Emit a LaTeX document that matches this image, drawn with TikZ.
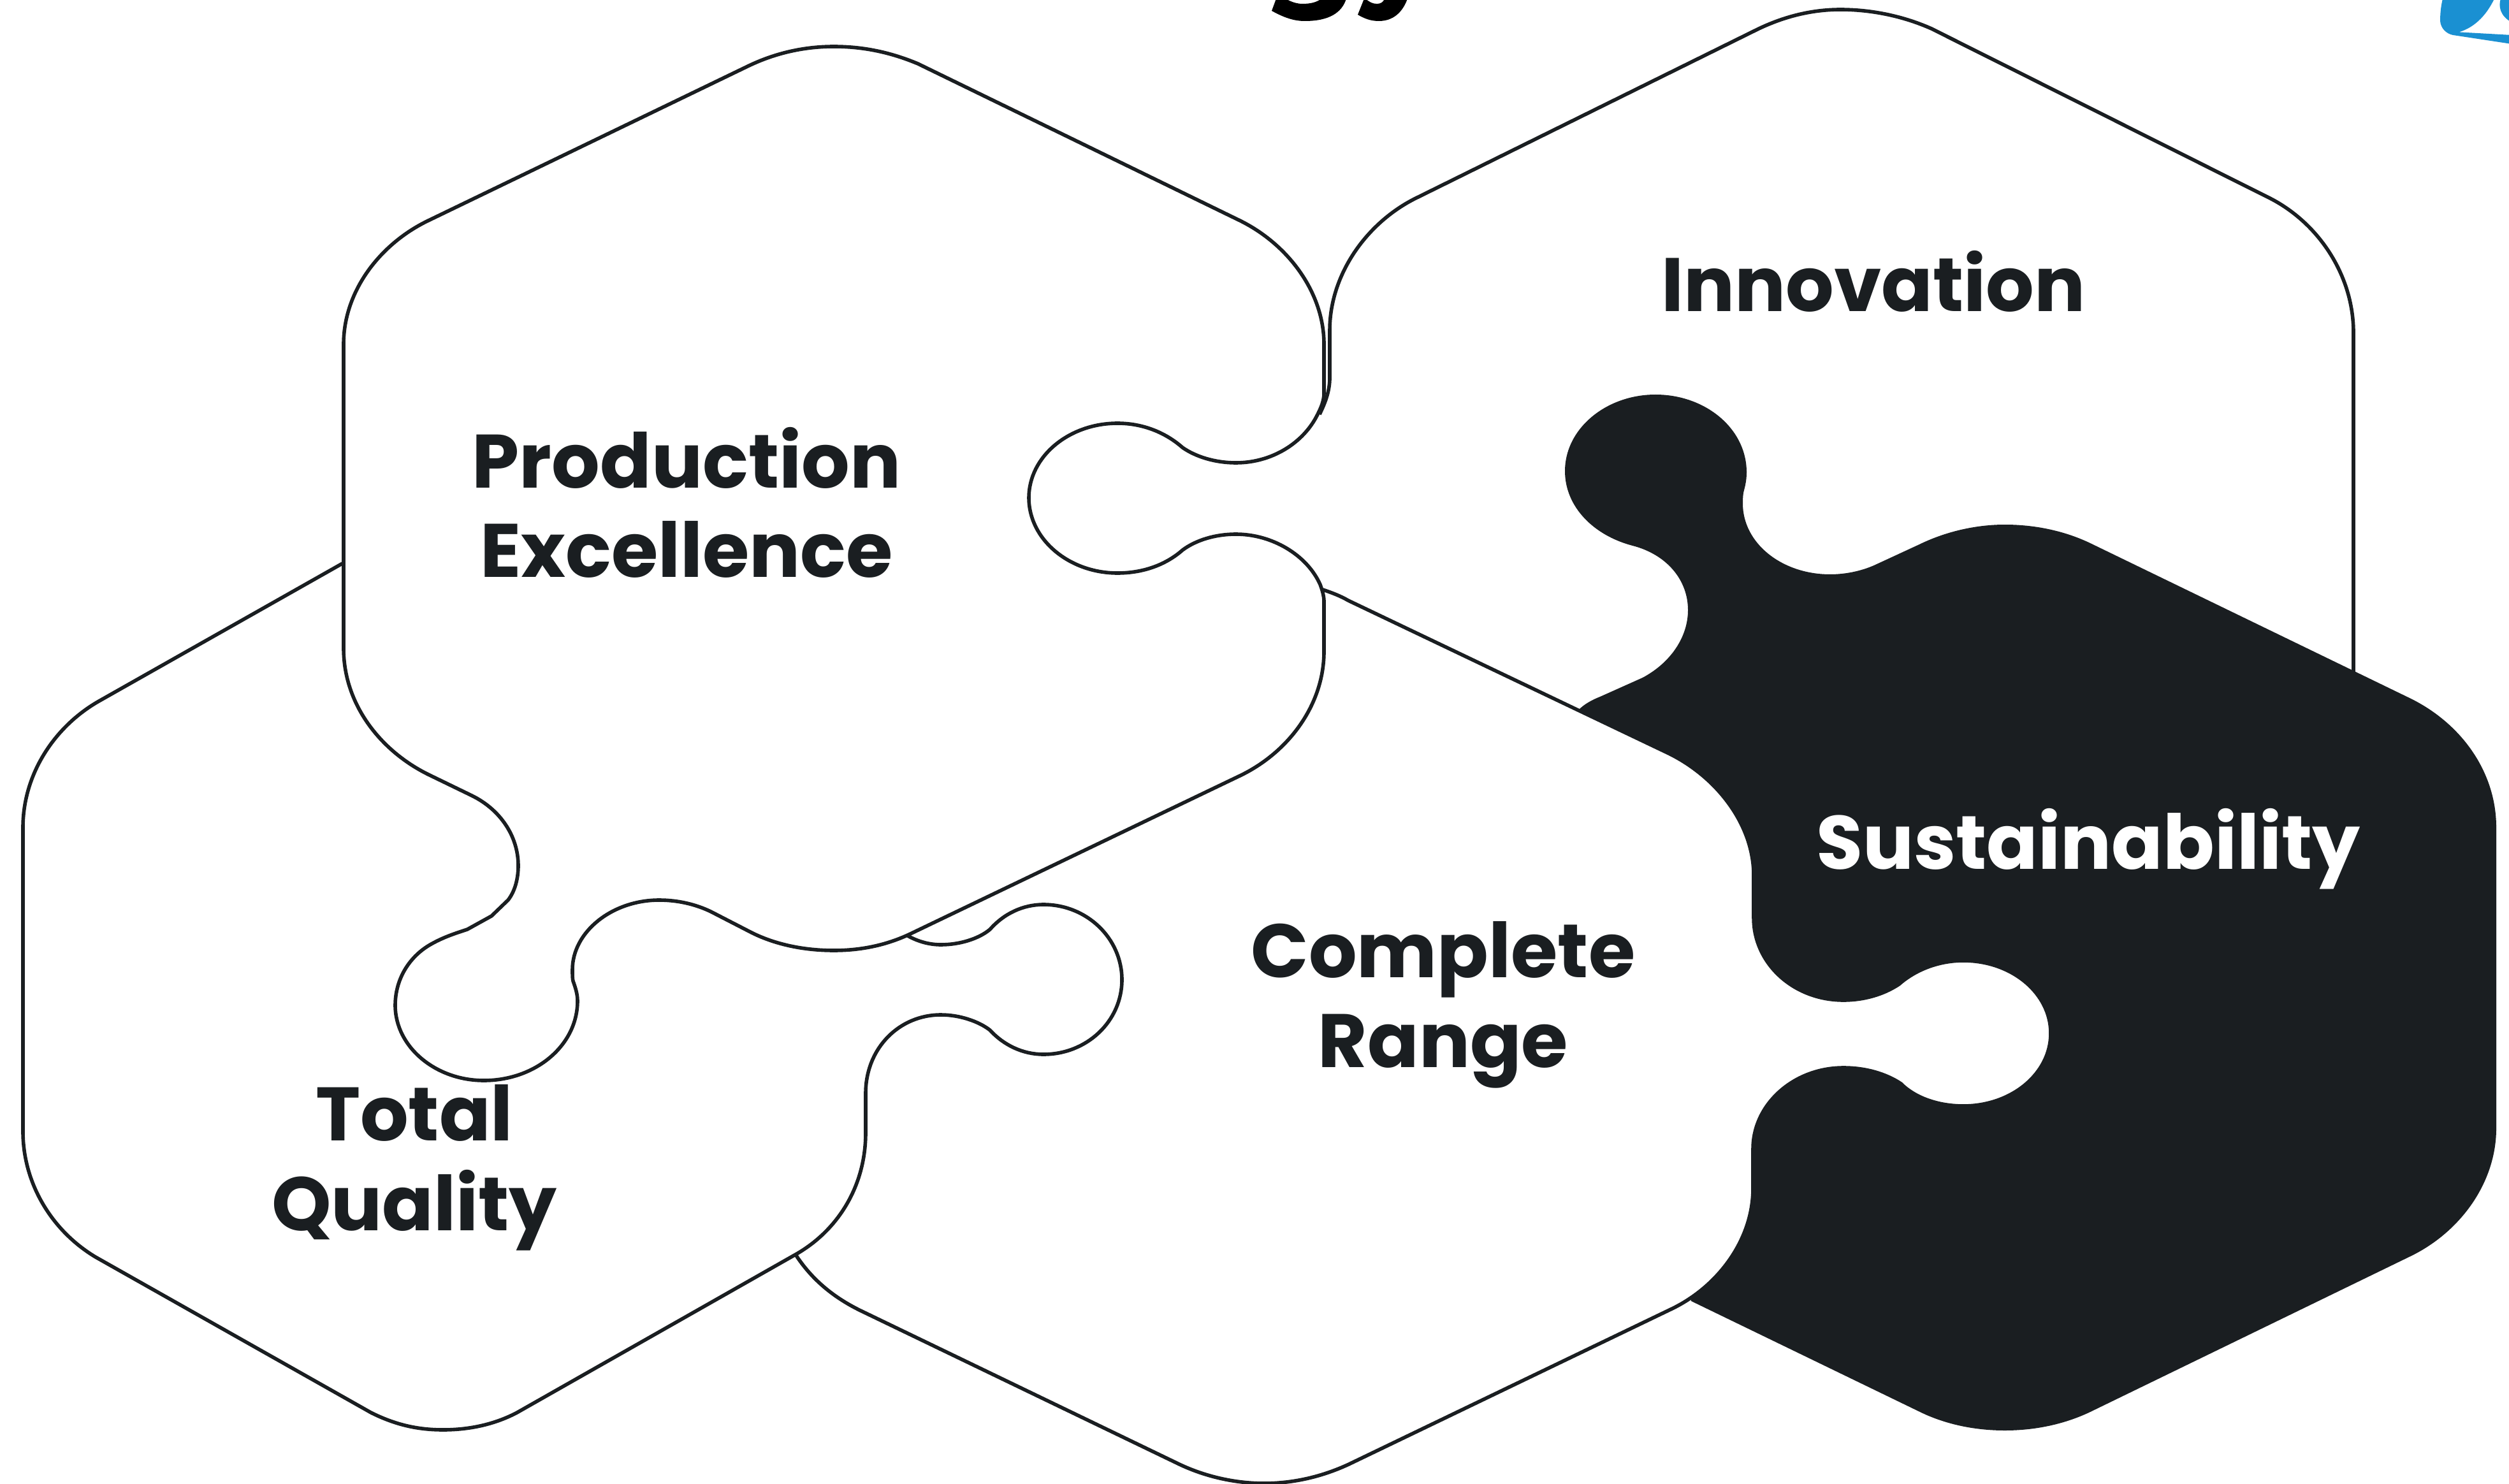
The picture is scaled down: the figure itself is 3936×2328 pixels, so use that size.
\documentclass[tikz,border=0pt]{standalone}
\usepackage{fontspec}
\setmainfont{Poppins}
\definecolor{ink}{HTML}{1A1E21}
\definecolor{logoblue}{HTML}{1A90D2}
\tikzset{
  piece/.style={fill=white,draw=ink,line width=0.056cm,line join=round},
  label/.style={font=\fontsize{33.8}{40}\selectfont\bfseries,text=ink,align=center,anchor=base,inner sep=0pt},
}
\begin{document}
\begin{tikzpicture}[x=0.01cm,y=-0.01cm]
\useasboundingbox (0,0) rectangle (3936,2328);
\fill[white] (0,0) rectangle (3936,2328);
% title descenders cut by the top edge
\fill[black] (2002,-2) -- (1995,17) .. controls (2015,28) and (2030,33) .. (2047,33) .. controls (2085,33) and (2105,20) .. (2112,-2) -- (2073,-2) .. controls (2065,4) and (2055,6) .. (2043,6) .. controls (2035,6) and (2025,3) .. (2017,-2) -- cycle;
\fill[black] (2140,-2) -- (2130,23) .. controls (2140,29) and (2150,33) .. (2163,33) .. controls (2185,33) and (2200,20) .. (2208,-2) -- (2172,-2) .. controls (2170,4) and (2165,6) .. (2160,6) .. controls (2153,6) and (2148,3) .. (2142,-2) -- cycle;
% logo corner
\fill[logoblue] (3832,-2) .. controls (3829,10) and (3828,22) .. (3828,33) .. controls (3829,45) and (3838,53) .. (3848,55) -- (3940,69) -- (3940,55) -- (3851,50) -- (3851,52) .. controls (3880,46) and (3900,25) .. (3913,-2) -- cycle;
\fill[logoblue] (3923,-2) .. controls (3919,10) and (3922,25) .. (3940,35) -- (3940,-2) -- cycle;
% Innovation
\draw[piece,fill=none] (2070,650) .. controls (2080,630) and (2086,612) .. (2086,593) -- (2086,518) .. controls (2086,430) and (2145,347) .. (2225,309) -- (2753,48) .. controls (2795,27) and (2840,15) .. (2887,15) .. controls (2935,15) and (2985,25) .. (3030,45) -- (3557,309) .. controls (3635,347) and (3692,430) .. (3692,522) -- (3692,1060);
% Sustainability
\fill[ink] (2477,1113) .. controls (2485,1105) and (2497,1098) .. (2510,1093) -- (2577,1063) .. controls (2620,1040) and (2648,1000) .. (2648,957) .. controls (2648,910) and (2615,870) .. (2561,856) .. controls (2500,840) and (2455,795) .. (2455,739) .. controls (2455,672) and (2520,619) .. (2597,619) .. controls (2675,619) and (2740,672) .. (2740,741) .. controls (2740,755) and (2737,765) .. (2735,773) .. controls (2734,780) and (2734,785) .. (2734,790) .. controls (2734,852) and (2795,901) .. (2871,901) .. controls (2897,901) and (2923,895) .. (2944,885) -- (3011,854) .. controls (3050,835) and (3097,823) .. (3145,823) .. controls (3193,823) and (3240,833) .. (3281,853) -- (3778,1094) .. controls (3860,1133) and (3916,1210) .. (3916,1298) -- (3916,1770) .. controls (3916,1855) and (3860,1932) .. (3783,1970) -- (3281,2214) .. controls (3240,2234) and (3193,2244) .. (3145,2244) .. controls (3097,2244) and (3050,2234) .. (3010,2214) -- (2653,2041) -- cycle;
% Complete Range
\path[piece] (2075,925) .. controls (2090,930) and (2103,935) .. (2115,942) -- (2618,1182) .. controls (2695,1220) and (2751,1295) .. (2751,1373) -- (2751,1440) .. controls (2751,1511) and (2813,1569) .. (2892,1569) .. controls (2924,1569) and (2955,1560) .. (2979,1544) .. controls (3004,1522) and (3040,1507) .. (3080,1507) .. controls (3156,1507) and (3217,1558) .. (3217,1621) .. controls (3217,1684) and (3156,1735) .. (3080,1735) .. controls (3040,1735) and (3004,1722) .. (2982,1700) .. controls (2958,1684) and (2926,1675) .. (2892,1675) .. controls (2813,1675) and (2750,1733) .. (2750,1802) -- (2750,1864) .. controls (2750,1945) and (2695,2018) .. (2623,2053) -- (2116,2297) .. controls (2075,2316) and (2030,2327) .. (1983,2327) .. controls (1937,2327) and (1890,2316) .. (1850,2297) -- (1350,2056) .. controls (1305,2034) and (1272,2005) .. (1248,1968);
% Total Quality
\path[piece] (537,884) -- (155,1100) .. controls (85,1140) and (36,1215) .. (36,1298) -- (36,1775) .. controls (36,1855) and (80,1930) .. (150,1972) -- (582,2216) .. controls (620,2235) and (655,2243) .. (695,2243) .. controls (735,2243) and (775,2235) .. (811,2216) -- (1248,1968) .. controls (1315,1930) and (1358,1860) .. (1358,1777) -- (1358,1715) .. controls (1358,1645) and (1410,1592) .. (1476,1592) .. controls (1505,1592) and (1535,1602) .. (1553,1616) .. controls (1575,1640) and (1605,1654) .. (1637,1654) .. controls (1705,1654) and (1760,1602) .. (1760,1537) .. controls (1760,1472) and (1705,1419) .. (1637,1419) .. controls (1605,1419) and (1575,1433) .. (1553,1458) .. controls (1535,1473) and (1505,1482) .. (1476,1482) .. controls (1458,1482) and (1440,1477) .. (1424,1468);
% Production Excellence
\path[piece] (539,540) .. controls (539,456) and (597,382) .. (672,346) -- (1175,103) .. controls (1217,83) and (1262,73) .. (1308,73) .. controls (1354,73) and (1397,82) .. (1440,100) -- (1945,346) .. controls (2022,384) and (2077,460) .. (2077,540) -- (2077,617) .. controls (2077,629) and (2072,640) .. (2067,650) .. controls (2045,695) and (1995,726) .. (1939,726) .. controls (1905,726) and (1875,716) .. (1855,702) .. controls (1830,680) and (1795,664) .. (1753,664) .. controls (1677,664) and (1614,716) .. (1614,781) .. controls (1614,846) and (1677,899) .. (1753,899) .. controls (1795,899) and (1830,885) .. (1855,863) .. controls (1875,848) and (1905,838) .. (1939,838) .. controls (1995,838) and (2050,870) .. (2071,917) .. controls (2074,925) and (2077,935) .. (2077,943) -- (2077,1022) .. controls (2077,1105) and (2022,1180) .. (1945,1217) -- (1428,1465) .. controls (1390,1483) and (1350,1491) .. (1308,1491) .. controls (1262,1491) and (1217,1482) .. (1179,1463) -- (1115,1430) .. controls (1090,1418) and (1062,1412) .. (1034,1412) .. controls (960,1412) and (898,1462) .. (898,1521) .. controls (898,1530) and (898,1535) .. (899,1539) .. controls (903,1550) and (906,1560) .. (906,1570) .. controls (906,1640) and (840,1695) .. (759,1695) .. controls (683,1695) and (620,1642) .. (620,1577) .. controls (620,1538) and (640,1503) .. (673,1483) .. controls (695,1470) and (715,1464) .. (733,1458) -- (771,1437) -- (797,1412) .. controls (808,1398) and (813,1378) .. (813,1358) .. controls (813,1312) and (785,1270) .. (740,1248) -- (672,1215) .. controls (597,1178) and (539,1105) .. (539,1017) -- cycle;
% labels
\node[label] (innov) at (2939,489) {Innovation};
\node[label] (prod) at (1077,906) {Production\\Excellence};
\node[label] (compl) at (2264,1674) {Complete\\Range};
\node[label] (total) at (650,1930) {Total\\Quality};
\node[label,text=white] (sust) at (3276,1363) {Sustainability};
\end{tikzpicture}
\end{document}
